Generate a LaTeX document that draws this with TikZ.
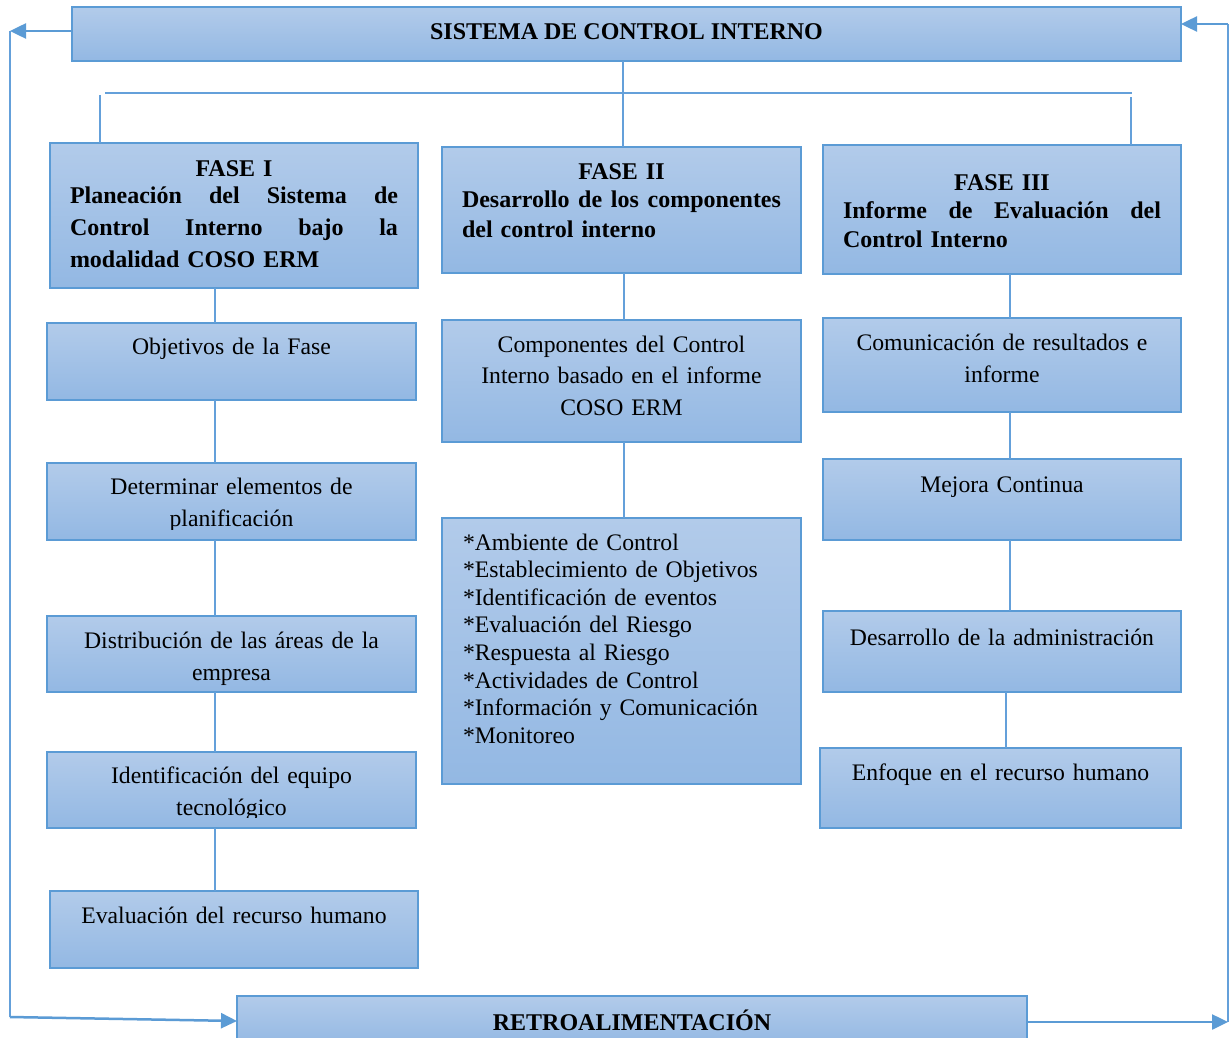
\documentclass[tikz,border=0pt]{standalone}
\usepackage{fontspec}
\setmainfont{Liberation Serif}
\usetikzlibrary{arrows.meta}
\definecolor{bord}{RGB}{91,155,213}
\definecolor{gtop}{RGB}{178,203,234}
\definecolor{gbot}{RGB}{147,184,227}
\definecolor{lnc}{RGB}{100,160,218}
\tikzset{
 bx/.style={draw=bord, line width=1.2pt, top color=gtop, bottom color=gbot, inner sep=0pt, outer sep=0pt},
 tx/.style={inner sep=0pt, outer sep=0pt, anchor=base, align=center, text width=340pt, font={\fontsize{23.7}{32}\selectfont}},
 hd/.style={inner sep=0pt, outer sep=0pt, anchor=base, align=left, font={\bfseries\fontsize{24}{30.5}\selectfont}},
 ttl/.style={inner sep=0pt, outer sep=0pt, anchor=base, font={\bfseries\fontsize{24}{28}\selectfont}},
 conn/.style={draw=lnc, line width=1.3pt},
 fb/.style={draw=bord, line width=2.5pt, -{Triangle[length=16pt,width=15pt]}},
 fbl/.style={draw=lnc, line width=1.3pt},
}
\newcommand\mkbox[5]{\node[bx, minimum width={#4-#2}, minimum height={#5-#3}] (#1) at ({(#2+#4)/2},{(#3+#5)/2}) {};}
\newcommand\jline[2]{\leavevmode\hbox to #1{#2}}
\begin{document}
\begin{tikzpicture}[x=1pt,y=-1pt]
\clip (0,0) rectangle (1229,1038);
\fill[white] (0,0) rectangle (1229,1038);
% boxes
\mkbox{sys}{72}{7}{1181}{61}
\mkbox{f1}{50}{143}{418}{288}
\mkbox{f2}{442}{147}{801}{273}
\mkbox{f3}{823}{145}{1181}{274}
\mkbox{o1}{47}{323}{416}{400}
\mkbox{o2}{47}{463}{416}{540}
\mkbox{o3}{47}{616}{416}{692}
\mkbox{o4}{47}{752}{416}{828}
\mkbox{o5}{50}{891}{418}{968}
\mkbox{c1}{442}{320}{801}{442}
\mkbox{c2}{442}{518}{801}{784}
\mkbox{r1}{823}{318}{1181}{412}
\mkbox{r2}{823}{459}{1181}{540}
\mkbox{r3}{823}{611}{1181}{692}
\mkbox{r4}{820}{748}{1181}{828}
\mkbox{retro}{237}{996}{1027}{1046}
% texts
\node[ttl] (syst) at (626.5,40) {SISTEMA DE CONTROL INTERNO};
\node[ttl] (retrot) at (632,1030) {RETROALIMENTACIÓN};
\node[hd, text width=328pt, font={\bfseries\fontsize{24}{31.5}\selectfont}] (f1t) at (234,176) {%
\jline{328pt}{\hfill FASE I\hfill}\\[-3.5pt]
\jline{328pt}{Planeación\hfill del\hfill Sistema\hfill de}\\
\jline{328pt}{Control\hfill Interno\hfill bajo\hfill la}\\
modalidad COSO ERM};
\node[hd, text width=319pt] (f2t) at (621.5,179) {%
\jline{319pt}{\hfill FASE II\hfill}\\[-2.5pt]
\jline{319pt}{Desarrollo\hfill de\hfill los\hfill componentes}\\
del control interno};
\node[hd, text width=318pt, font={\bfseries\fontsize{24}{29}\selectfont}] (f3t) at (1002,190.7) {%
\jline{318pt}{\hfill FASE III\hfill}\\[-1.7pt]
\jline{318pt}{Informe\hfill de\hfill Evaluación\hfill del}\\
Control Interno};
\node[tx] (o1t) at (231.5,354) {Objetivos de la Fase};
\begin{scope}
\clip (47,463) rectangle (416,529);
\node[tx] (o2t) at (231.5,494) {Determinar elementos de\\planificación};
\end{scope}
\node[tx] (o3t) at (231.5,648) {Distribución de las áreas de la\\empresa};
\begin{scope}
\clip (47,752) rectangle (416,817);
\node[tx] (o4t) at (231.5,783) {Identificación del equipo\\tecnológico};
\end{scope}
\node[tx] (o5t) at (234,923) {Evaluación del recurso humano};
\node[tx, font={\fontsize{23.7}{31.7}\selectfont}] (c1t) at (621.5,352) {Componentes del Control\\Interno basado en el informe\\COSO ERM};
\node[tx, anchor=base west, align=left, text width=330pt, font={\fontsize{23.7}{27.6}\selectfont}] (c2t) at (463,550) {%
{*}Ambiente de Control\\
{*}Establecimiento de Objetivos\\
{*}Identificación de eventos\\
{*}Evaluación del Riesgo\\
{*}Respuesta al Riesgo\\
{*}Actividades de Control\\
{*}Información y Comunicación\\
{*}Monitoreo};
\node[tx] (r1t) at (1002,350) {Comunicación de resultados e\\informe};
\node[tx] (r2t) at (1002,492) {Mejora Continua};
\node[tx] (r3t) at (1002,645) {Desarrollo de la administración};
\node[tx] (r4t) at (1000.5,780) {Enfoque en el recurso humano};
% coordinates
\coordinate (b1) at (100,95);
\coordinate (b2) at (623,0);
\coordinate (b3) at (1131,97);
\coordinate (bl) at (105,93);
\coordinate (br) at (1132,93);
\coordinate (k1) at (215,0);
\coordinate (k2) at (624,0);
\coordinate (k3) at (1010,0);
\coordinate (k4) at (1006,0);
\coordinate (lt) at (10,31);
\coordinate (lb) at (10,1017);
\coordinate (rt) at (1228,24);
\coordinate (rb) at (1228,1022);
% top bus
\draw[conn] (bl) -- (br);
\draw[conn] (sys.south -| b2) -- (f2.north -| b2);
\draw[conn] (f1.north -| b1) -- (b1);
\draw[conn] (f3.north -| b3) -- (b3);
% column 1
\draw[conn] (f1.south -| k1) -- (o1.north -| k1);
\draw[conn] (o1.south -| k1) -- (o2.north -| k1);
\draw[conn] (o2.south -| k1) -- (o3.north -| k1);
\draw[conn] (o3.south -| k1) -- (o4.north -| k1);
\draw[conn] (o4.south -| k1) -- (o5.north -| k1);
% column 2
\draw[conn] (f2.south -| k2) -- (c1.north -| k2);
\draw[conn] (c1.south -| k2) -- (c2.north -| k2);
% column 3
\draw[conn] (f3.south -| k3) -- (r1.north -| k3);
\draw[conn] (r1.south -| k3) -- (r2.north -| k3);
\draw[conn] (r2.south -| k3) -- (r3.north -| k3);
\draw[conn] (r3.south -| k4) -- (r4.north -| k4);
% feedback
\draw[fb] (sys.west |- lt) -- (lt);
\draw[fbl] (lt) -- (lb);
\draw[fb] (lb) -- (retro.west);
\draw[fb] (retro.east |- rb) -- (rb);
\draw[fbl] (rb) -- (rt);
\draw[fb] (rt) -- (sys.east |- rt);
\end{tikzpicture}
\end{document}
